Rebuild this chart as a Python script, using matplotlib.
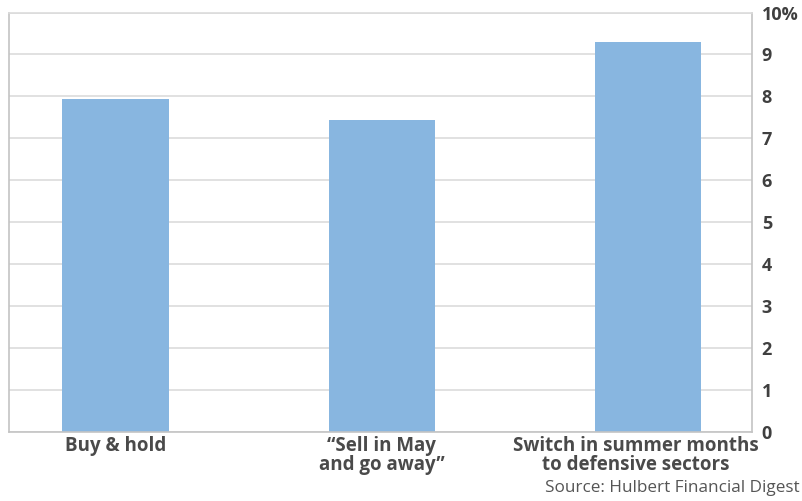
import matplotlib.pyplot as plt
import matplotlib.transforms as mtransforms

# Data
categories = ['Buy & hold', '\u201cSell in May\nand go away\u201d',
              'Switch in summer months\nto defensive sectors']
returns = [7.95, 7.43, 9.29]
y_ticks = [0, 1, 2, 3, 4, 5, 6, 7, 8, 9, 10]
y_labels = ['0', '1', '2', '3', '4', '5', '6', '7', '8', '9', '10%']

plt.rcParams['font.family'] = ['Open Sans', 'DejaVu Sans']

fig = plt.figure(figsize=(8.03, 5.01), dpi=100)
ax = fig.add_axes([0.0112, 0.1377, 0.9253, 0.8373])

x = list(range(len(categories)))
ax.bar(x, returns, width=0.40, color='#88b6e0', zorder=2)

ax.set_xlim(-0.4, 2.39)
ax.set_ylim(0, 10)

# right-side axis labels
ax.yaxis.tick_right()
ax.set_yticks(y_ticks)
ax.set_yticklabels(y_labels, fontsize=13, fontweight='bold', color='#3f3f3f')
ax.tick_params(axis='y', length=0, pad=7)
ax.grid(axis='y', color='#dcdcdc', linewidth=1.2, zorder=0)

ax.set_xticks(x)
ax.set_xticklabels(categories, fontsize=13.5, fontweight='bold', color='#4a4a4a',
                   linespacing=0.95)
ax.tick_params(axis='x', length=0, pad=3)

# last label sits a bit left of its bar
lbl = ax.get_xticklabels()[-1]
lbl.set_transform(lbl.get_transform() +
                  mtransforms.ScaledTranslation(-12 / 100, 0, fig.dpi_scale_trans))

for side in ['left', 'right', 'bottom', 'top']:
    ax.spines[side].set_color('#c4c4c4')
    ax.spines[side].set_linewidth(1.2)
ax.spines['top'].set_color('#dcdcdc')

fig.text(0.996, 0.017, 'Source: Hulbert Financial Digest', ha='right', va='baseline',
         fontsize=12.3, color='#555555')

plt.savefig('out.png', dpi=100)
